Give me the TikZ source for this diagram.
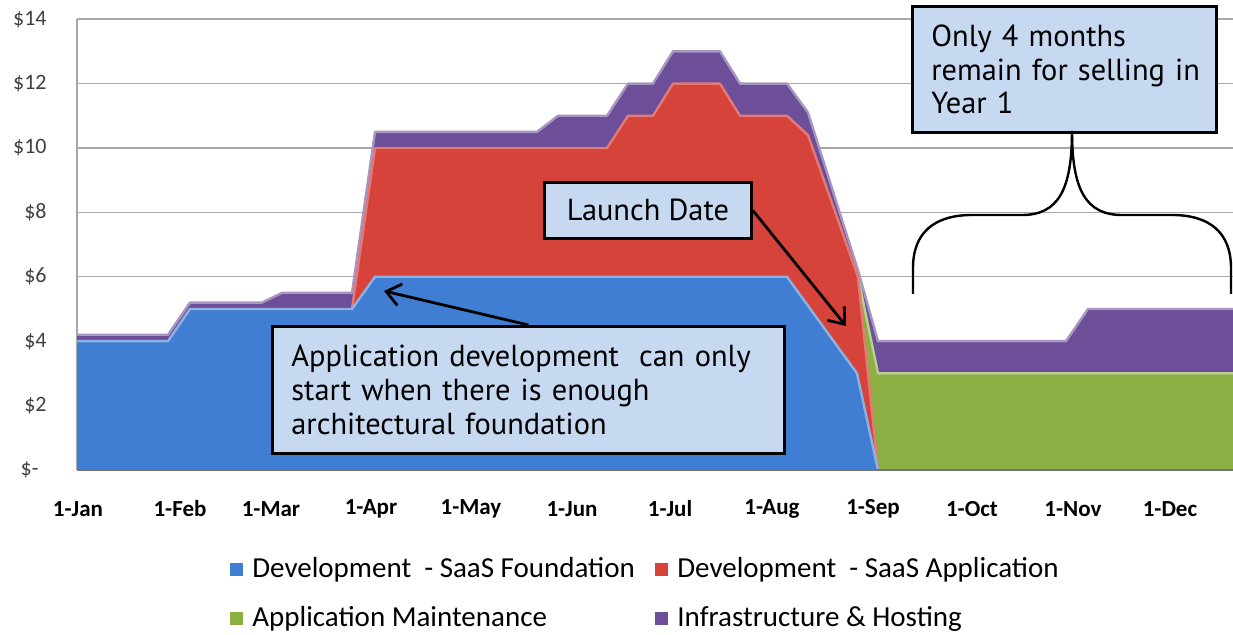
\documentclass[tikz,border=0pt]{standalone}
\usepackage{fontspec}
\setmainfont{Carlito}
\newfontfamily\notefont{PT Sans}
\usetikzlibrary{arrows.meta}
\definecolor{foundblue}{HTML}{3F7ED2}
\definecolor{appred}{HTML}{D6433A}
\definecolor{maintgreen}{HTML}{8BAF42}
\definecolor{hostpurple}{HTML}{6D4E99}
\definecolor{notefill}{HTML}{C6D9F1}
\definecolor{gridgray}{HTML}{A8A8A8}
\definecolor{axistext}{HTML}{404040}
\tikzset{
      grid line/.style={draw=gridgray, line width=0.7pt},
      ylabel/.style={anchor=east, inner sep=0pt, text=axistext, font=\fontsize{11}{13}\selectfont},
      xlabel/.style={inner sep=0pt, font=\bfseries\fontsize{11.5}{13}\selectfont},
      notebox/.style={draw=black, line width=1.4pt, fill=notefill, align=left,
            font=\notefont\fontsize{15.2}{16.8}\selectfont},
      notearrow/.style={draw=black, line width=1.4pt, -{Straight Barb[length=7pt,width=11pt]}},
      bracecurve/.style={draw=black, line width=1.2pt},
      edgehi/.style={line width=1.2pt, line join=round},
      legendkey/.style={minimum size=6.5pt, inner sep=0pt},
      legendtext/.style={anchor=west, inner sep=0pt, font=\fontsize{14.5}{17}\selectfont},
}
% tops of the stacked areas (x in pixels, y in dollars)
\def\totaltop{(77,4.2) -- (168,4.2) -- (190,5.2) -- (262,5.2) -- (282,5.5) -- (352,5.5) -- (375,10.5) -- (537,10.5) -- (558,11) -- (607,11) -- (628,12) -- (653,12) -- (673,13) -- (720,13) -- (740,12) -- (787,12) -- (808,11.1) -- (858,6.2) -- (878,4) -- (1066,4) -- (1088,5) -- (1233,5)}
\def\greentop{(858,6) -- (878,3) -- (1233,3)}
\def\redtop{(352,5) -- (375,10) -- (607,10) -- (628,11) -- (653,11) -- (673,12) -- (720,12) -- (740,11) -- (787,11) -- (808,10.4) -- (858,6) -- (878,0)}
\def\bluetop{(77,4) -- (168,4) -- (190,5) -- (352,5) -- (375,6) -- (787,6) -- (857,3) -- (878,0)}

\begin{document}
\begin{tikzpicture}[x=0.5pt, y=-0.5pt]
        \useasboundingbox (0,0) rectangle (1233,635);

        % Chart area
        \begin{scope}[shift={(0,470)}, y=16.1pt]
        \foreach \v in {2,4,...,14}
            \draw[grid line] (77,\v) -- (1233,\v);
        \draw[grid line] (77,0) -- (77,14);

        \foreach \v/\lab in {0/{\$-}, 2/{\$2}, 4/{\$4}, 6/{\$6}, 8/{\$8}, 10/{\$10}, 12/{\$12}, 14/{\$14}}
            \node[ylabel] (y\v) at (\ifnum\v=0 39\else 47\fi,\v) {\lab};

        % Draw the areas
        \fill[hostpurple] \totaltop -- (1233,0) -- (77,0) -- cycle;
        \fill[maintgreen] \greentop -- (1233,0) -- (858,0) -- cycle;
        \fill[appred] \redtop -- (352,0) -- cycle;
        \fill[foundblue] \bluetop -- (77,0) -- cycle;

        \draw[edgehi, draw=hostpurple!60!white] \totaltop;
        \draw[edgehi, draw=maintgreen!60!white] \greentop;
        \draw[edgehi, draw=appred!70!white] \redtop;
        \draw[edgehi, draw=foundblue!60!white] \bluetop;
        \draw[line width=1pt, draw=black!55] (77,0) -- (1233,0);
        \end{scope}

        % Month labels
        \foreach \m/\px in {Jan/78, Feb/180, Mar/271, Apr/371, May/471, Jun/572, Jul/670, Aug/772, Sep/873, Oct/972, Nov/1073, Dec/1170}
            \node[xlabel] (x\m) at (\px,509) {1-\m};

        % Notes and arrows
        \node[notebox, anchor=north west, text width=237pt, inner xsep=9.5pt, minimum height=63.5pt] (appnote) at (271,325)
            {Application development\ \ can only\\ start when there is enough\\ architectural foundation};
        \coordinate (apptip) at (384,291);
        \draw[notearrow] (appnote.north) -- (apptip);

        \node[notebox, anchor=north west, minimum width=103.5pt, minimum height=28pt, align=center] (launchnote) at (543,181) {Launch Date};
        \coordinate (launchtip) at (846,326);
        \draw[notearrow] (launchnote.east) -- (launchtip);

        \node[notebox, anchor=north west, text width=133pt, inner xsep=9.5pt, minimum height=63pt] (yearnote) at (911,5)
            {\mbox{Only 4 months}\\ \mbox{remain for selling in}\\ \mbox{Year 1}};

        % Brace under the year note
        \coordinate (bracetip) at (1072,131);
        \coordinate (braceL) at (913,294);
        \coordinate (braceR) at (1231,294);
        \draw[bracecurve] (braceL) -- (913,268) .. controls (913,232) and (935,215) .. (972,215) -- (1022,215)
            .. controls (1058,215) and (1072,190) .. (bracetip);
        \draw[bracecurve] (braceR) -- (1231,268) .. controls (1231,232) and (1209,215) .. (1172,215) -- (1122,215)
            .. controls (1086,215) and (1072,190) .. (bracetip);

        % Legend
        \node[legendkey, fill=foundblue] (kfound) at (236,570) {};
        \node[legendtext] (lfound) at (252,570) {Development\ \ - SaaS Foundation};
        \node[legendkey, fill=appred] (kapp) at (661,570) {};
        \node[legendtext] (lapp) at (677,570) {Development\ \ - SaaS Application};
        \node[legendkey, fill=maintgreen] (kmaint) at (236,619) {};
        \node[legendtext] (lmaint) at (252,619) {Application Maintenance};
        \node[legendkey, fill=hostpurple] (khost) at (661,619) {};
        \node[legendtext] (lhost) at (677,619) {Infrastructure \& Hosting};

    \end{tikzpicture}
\end{document}
